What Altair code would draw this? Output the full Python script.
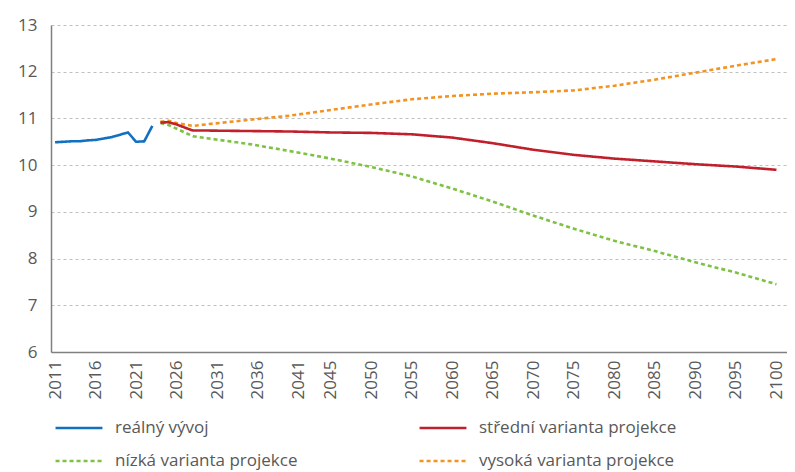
import altair as alt
import pandas as pd

# Real development (million inhabitants)
real_years = [2011, 2012, 2013, 2014, 2015, 2016, 2017, 2018, 2019, 2020, 2021, 2022, 2023]
real_vals = [10.49, 10.50, 10.51, 10.51, 10.53, 10.54, 10.57, 10.60, 10.65, 10.70, 10.50, 10.51, 10.84]

# Projection years
proj_years = [2024, 2025, 2026, 2028, 2030, 2035, 2040, 2045, 2050, 2055, 2060,
              2065, 2070, 2075, 2080, 2085, 2090, 2095, 2100]
mid_vals = [10.91, 10.92, 10.87, 10.74, 10.74, 10.73, 10.72, 10.70, 10.69, 10.66, 10.59,
            10.47, 10.33, 10.22, 10.14, 10.08, 10.02, 9.97, 9.90]
low_vals = [10.90, 10.86, 10.78, 10.62, 10.57, 10.45, 10.30, 10.14, 9.96, 9.76, 9.50,
            9.22, 8.92, 8.64, 8.38, 8.16, 7.92, 7.70, 7.45]
high_vals = [10.93, 10.95, 10.90, 10.84, 10.88, 10.97, 11.06, 11.18, 11.30, 11.41, 11.48,
             11.53, 11.56, 11.60, 11.70, 11.83, 11.98, 12.13, 12.27]

# legend order (column-major in a two-column legend)
series_names = ["reálný vývoj", "nízká varianta projekce",
                "střední varianta projekce", "vysoká varianta projekce"]
series_colors = ["#1170c0", "#7dc242", "#c0202c", "#f39322"]
series_dash = [[1, 0], [4, 3], [1, 0], [4, 3]]

tick_years = [2011, 2016, 2021, 2026, 2031, 2036, 2041, 2045, 2050, 2055, 2060,
              2065, 2070, 2075, 2080, 2085, 2090, 2095, 2100]

rows = []
for y, v in zip(real_years, real_vals):
    rows.append({"year": y, "value": v, "series": series_names[0], "order": 0})
for name, vals, o in [(series_names[1], low_vals, 1), (series_names[3], high_vals, 2),
                      (series_names[2], mid_vals, 3)]:
    for y, v in zip(proj_years, vals):
        rows.append({"year": y, "value": v, "series": name, "order": o})
df = pd.DataFrame(rows)

FONT = "Open Sans"
GRAY = "#595959"

legend_cfg = dict(title=None, orient="none", legendX=3, legendY=378,
                  columns=2, columnPadding=116, rowPadding=-15,
                  symbolType="stroke", symbolSize=2200, symbolStrokeWidth=2.6,
                  labelFontSize=17, labelFont=FONT, labelColor=GRAY, labelOffset=11,
                  labelLimit=400, padding=0)

chart = alt.Chart(df).mark_line(strokeWidth=2.6, strokeCap="butt").encode(
    x=alt.X("year:Q",
            scale=alt.Scale(domain=[2010.5, 2101.3], nice=False, zero=False),
            axis=alt.Axis(values=tick_years, format="d", labelAngle=270, title=None,
                          grid=False, ticks=False, labelFontSize=17, labelColor=GRAY,
                          labelFont=FONT, labelPadding=8, domainColor="#808080",
                          domainWidth=1.5, labelFlush=False, labelOverlap=False)),
    y=alt.Y("value:Q",
            scale=alt.Scale(domain=[6, 13], nice=False, zero=False),
            axis=alt.Axis(values=[6, 7, 8, 9, 10, 11, 12, 13], title=None, ticks=False,
                          labelFontSize=17, labelColor=GRAY, labelFont=FONT,
                          labelPadding=14, domainColor="#808080", domainWidth=1.5,
                          gridColor="#c0c0c0", gridDash=[3, 3], gridWidth=1)),
    color=alt.Color("series:N",
                    scale=alt.Scale(domain=series_names, range=series_colors),
                    legend=alt.Legend(**legend_cfg)),
    strokeDash=alt.StrokeDash("series:N",
                              scale=alt.Scale(domain=series_names, range=series_dash),
                              legend=alt.Legend(**legend_cfg)),
    order=alt.Order("order:Q"),
).properties(
    width=736, height=327,
    autosize=alt.AutoSizeParams(type="none"),
    padding={"left": 43, "top": 17, "right": 0, "bottom": 120},
).configure_view(stroke=None)

chart.save("out.html", embed_options={"renderer": "svg", "actions": False})
